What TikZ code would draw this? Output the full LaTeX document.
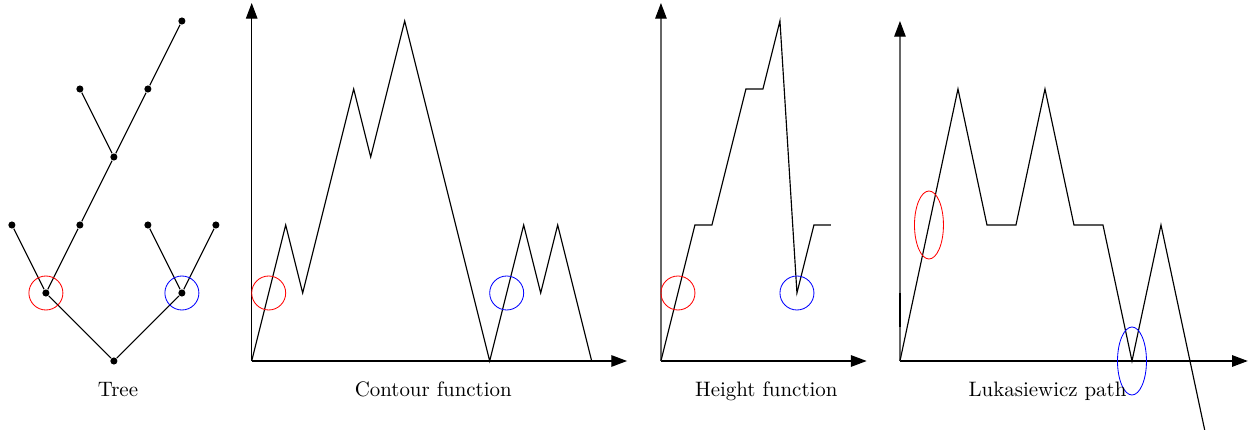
\documentclass[tikz,border=0pt]{standalone}
\usepackage{tikz}
\usetikzlibrary{arrows.meta}

\begin{document}
\begin{tikzpicture}[x=0.5714cm,y=0.5714cm,line width=0.55pt,>={Triangle[length=7.5pt,width=5.5pt]},
    dot/.style={circle,fill,inner sep=0pt,minimum size=3.4pt},
    greyaxis/.style={black!60,-{Triangle[length=7.5pt,width=5.5pt,color=black]}},
    caption/.style={anchor=base}]
      \clip (0,-2.029) rectangle (36.912,10.618);
      % tree
      \node[dot] (root) at (3.35,0) {};
      \node[dot] (a) at (1.35,2) {};
      \node[dot] (b) at (5.35,2) {};
      \node[dot] (a1) at (0.35,4) {};
      \node[dot] (a2) at (2.35,4) {};
      \node[dot] (b1) at (4.35,4) {};
      \node[dot] (b2) at (6.35,4) {};
      \node[dot] (c) at (3.35,6) {};
      \node[dot] (d1) at (2.35,8) {};
      \node[dot] (d2) at (4.35,8) {};
      \node[dot] (e) at (5.35,10) {};
      \draw (root) -- (a) -- (a1);
      \draw (a) -- (a2) -- (c) -- (d1);
      \draw (c) -- (d2) -- (e);
      \draw (root) -- (b) -- (b1);
      \draw (b) -- (b2);
      \draw[red,line width=0.4pt] (a.center) circle (0.5);
      \draw[blue,line width=0.4pt] (b.center) circle (0.5);
      \node[caption] (treelab) at (3.47,-1.05) {Tree};
      % contour function
      \begin{scope}[shift={(7.403,0)}]
        \draw[->] (0,0) -- (11.04,0);
        \draw[->] (0,0) -- (0,10.53);
        \draw (0,0) -- (1,4) -- (1.5,2) -- (3,8) -- (3.5,6) -- (4.5,10) -- (7,0)
          -- (8,4) -- (8.5,2) -- (9,4) -- (10,0);
        \draw[red,line width=0.4pt] (0.5,2) circle (0.5);
        \draw[blue,line width=0.4pt] (7.5,2) circle (0.5);
        \node[caption] (contlab) at (5.34,-1.05) {Contour function};
      \end{scope}
      % height function
      \begin{scope}[shift={(19.44,0)}]
        \draw[->] (0,0) -- (6.05,0);
        \draw[greyaxis] (0,0) -- (0,10.53);
        \draw (0,0) -- (1,4) -- (1.5,4) -- (2.5,8) -- (3,8) -- (3.5,10) -- (4,2)
          -- (4.5,4) -- (5,4);
        \draw[red,line width=0.4pt] (0.5,2) circle (0.5);
        \draw[blue,line width=0.4pt] (4,2) circle (0.5);
        \node[caption] (heightlab) at (3.1,-1.05) {Height function};
      \end{scope}
      % Lukasiewicz path
      \begin{scope}[shift={(26.47,0)}]
        \draw[->] (0,0) -- (10.23,0);
        \draw[greyaxis] (0,0) -- (0,10);
        \draw[line width=0.9pt] (0,1) -- (0,2);
        \draw (0,0) -- (1.706,8) -- (2.559,4) -- (3.412,4) -- (4.265,8) -- (5.118,4)
          -- (5.971,4) -- (6.824,0) -- (7.677,4) -- (9.383,-4);
        \draw[red,line width=0.4pt] (0.853,4) ellipse (0.426 and 1);
        \draw[blue,line width=0.4pt] (6.824,0) ellipse (0.426 and 1);
        \node[caption] (lukalab) at (4.34,-1.05) {Lukasiewicz path};
      \end{scope}
    \end{tikzpicture}
\end{document}
